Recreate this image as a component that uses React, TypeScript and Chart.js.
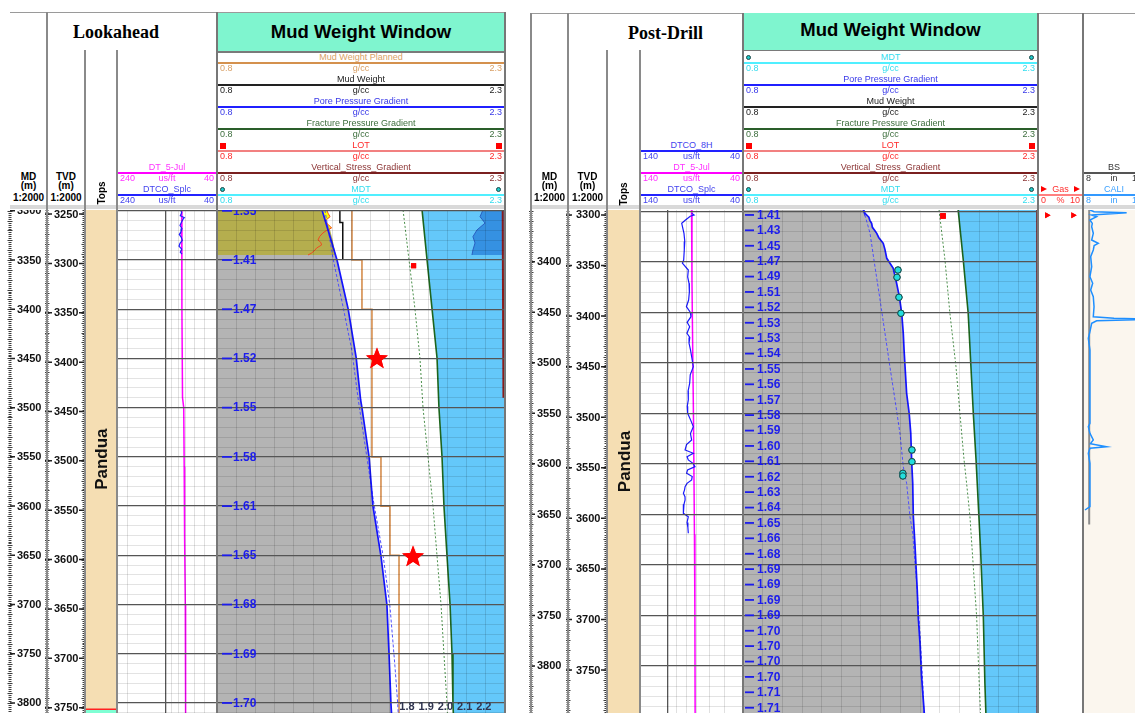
import React, { useEffect, useRef } from 'react';
import { Chart, registerables } from 'chart.js';

Chart.register(...registerables);

const FONT = '"Liberation Sans", Arial, Helvetica, sans-serif';
const SERIF = '"Liberation Serif", "Times New Roman", Times, serif';

/* ===================== DATA : Lookahead ===================== */
const lookMdRange = [3299.2, 3810.2];
const lookTvdRange = [3245.9, 3755.4];
const lookMdTicks = [3300, 3350, 3400, 3450, 3500, 3550, 3600, 3650, 3700, 3750, 3800];
const lookTvdTicks = [3250, 3300, 3350, 3400, 3450, 3500, 3550, 3600, 3650, 3700, 3750];
const lookPpLabelDepths = [3300, 3350, 3400, 3450, 3500, 3550, 3600, 3650, 3700, 3750, 3800];
const lookPpLabels = ['1.35', '1.41', '1.47', '1.52', '1.55', '1.58', '1.61', '1.65', '1.68', '1.69', '1.70'];
const lookScaleLabels = [1.8, 1.9, 2.0, 2.1, 2.2];

const lookTopNames = ['Pandua', ''];
const lookTopTops = [3200, 3805.4];
const lookTopBases = [3805.4, 3900];

const lookDtDepth = [3299, 3400, 3490, 3500, 3560, 3630, 3700, 3811];
const lookDtVal = [75.3, 75.0, 74.2, 72.6, 72.0, 71.5, 70.6, 70.2];
const lookDtcoDepth = [3299, 3302, 3305, 3307, 3308, 3312, 3315, 3318, 3321, 3324, 3327, 3330, 3333, 3336, 3339, 3342, 3344];
const lookDtcoVal = [76.6, 75.3, 77.2, 71.8, 73.1, 75.8, 77.6, 74.9, 76.2, 78.6, 75.8, 74.5, 77.6, 79.0, 75.3, 77.2, 74.9];

const lookPoreDepth = [3299.2, 3350, 3399.7, 3449.5, 3492.2, 3500.3, 3550.1, 3599.9, 3650.7, 3700.5, 3750.3, 3801, 3811];
const lookPoreVal = [1.347, 1.425, 1.483, 1.525, 1.548, 1.555, 1.592, 1.612, 1.654, 1.685, 1.696, 1.706, 1.709];
const lookPoreDashDepth = [3299.2, 3350, 3399, 3441.5, 3492.3, 3593.9, 3651.4, 3702.2, 3763.1, 3800.3, 3811];
const lookPoreDashVal = [1.362, 1.406, 1.458, 1.502, 1.536, 1.614, 1.666, 1.701, 1.727, 1.741, 1.744];
const lookFracDepth = [3299.2, 3350, 3399.7, 3449.5, 3500.3, 3550.1, 3599.9, 3650.7, 3700.5, 3750.3, 3801, 3811];
const lookFracVal = [1.868, 1.894, 1.92, 1.946, 1.956, 1.972, 1.982, 1.998, 2.014, 2.024, 2.029, 2.031];
const lookFracDotDepth = [3299.2, 3350, 3399.7, 3449.5, 3500.3, 3550.1, 3599.9, 3650.7, 3700.5, 3750.3, 3801, 3811];
const lookFracDotVal = [1.769, 1.8, 1.831, 1.857, 1.873, 1.899, 1.925, 1.946, 1.967, 1.982, 1.998, 2.0];
const lookMwpDepth = [3299.2, 3350, 3400, 3550, 3600, 3650, 3811];
const lookMwpVal = [1.503, 1.555, 1.607, 1.654, 1.701, 1.748, 1.748];
const lookMwDepth = [3299.2, 3312, 3350];
const lookMwVal = [1.44, 1.455, 1.455];
const lookEcdDepth = [3299.2, 3303, 3306, 3309, 3311, 3314, 3317.5, 3320, 3322.5, 3326, 3329.7, 3332, 3334.7, 3337.8, 3340, 3342.9, 3344.9];
const lookEcdVal = [1.371, 1.38, 1.389, 1.37, 1.362, 1.38, 1.397, 1.37, 1.352, 1.335, 1.326, 1.34, 1.345, 1.319, 1.31, 1.293, 1.274];
const lookOliveDepth = [3299.2, 3310, 3320, 3332, 3344.9];
const lookOliveVal = [1.347, 1.37, 1.39, 1.405, 1.418];
const lookDeepDepth = [3299.2, 3306, 3312.5, 3319.5, 3326.3, 3332.7, 3339.8, 3344.9];
const lookDeepVal = [2.185, 2.17, 2.196, 2.154, 2.133, 2.144, 2.133, 2.128];
const lookVsDepth = [3299.2, 3400, 3490];
const lookVsVal = [2.288, 2.29, 2.292];
const lookLotDepth = [3355.8];
const lookLotVal = [1.824];
const lookStarDepth = [3449.5, 3650.7];
const lookStarVal = [1.633, 1.821];

/* ===================== DATA : Post-Drill ===================== */
const postMdRange = [3348.8, 3846.6];
const postTvdRange = [3295.1, 3792.5];
const postMdTicks = [3400, 3450, 3500, 3550, 3600, 3650, 3700, 3750, 3800];
const postTvdTicks = [3300, 3350, 3400, 3450, 3500, 3550, 3600, 3650, 3700, 3750];
const postPpLabelDepths = [3353.7, 3368.9, 3384.2, 3399.4, 3414.7, 3429.9, 3445.1, 3460.4, 3475.6, 3490.9, 3506.1, 3521.3, 3536.6, 3551.8, 3567.1, 3582.3, 3597.5, 3612.8, 3628.0, 3643.3, 3658.5, 3673.7, 3689.0, 3704.2, 3719.5, 3734.7, 3749.9, 3765.2, 3780.4, 3795.7, 3810.9, 3826.1, 3841.4];
const postPpLabels = ['1.41', '1.43', '1.45', '1.47', '1.49', '1.51', '1.52', '1.53', '1.53', '1.54', '1.55', '1.56', '1.57', '1.58', '1.59', '1.60', '1.61', '1.62', '1.63', '1.64', '1.65', '1.66', '1.68', '1.69', '1.69', '1.69', '1.69', '1.70', '1.70', '1.70', '1.70', '1.71', '1.71'];

const postTopNames = ['Pandua'];
const postTopTops = [3200];
const postTopBases = [3900];

const postDtDepth = [3348.8, 3420, 3500, 3560, 3670, 3750, 3847];
const postDtVal = [74.8, 74.4, 73.6, 73.0, 72.2, 71.8, 71.6];
const postDtco8Depth = [3352, 3353.7, 3355, 3358.7, 3362, 3371.9, 3380, 3388.4, 3398.3, 3401.5, 3408.2, 3415, 3421.3, 3430, 3437.9, 3444.5, 3450, 3454.4, 3460, 3464.3, 3470.8, 3475, 3480.7, 3487, 3494, 3503.9, 3512, 3520.3, 3528, 3536.8, 3543, 3550, 3557, 3563.2, 3570, 3576.4, 3581, 3586.3, 3589.6, 3593, 3596.2, 3599.5, 3602.8, 3606, 3609.4, 3612.5, 3616, 3619.3, 3622.6, 3626, 3629.2, 3632.5, 3635.8, 3640, 3645, 3649, 3652.3, 3658, 3663, 3668.7];
const postDtco8Val = [74.7, 72.5, 76.0, 80.5, 84.3, 82.0, 81.2, 81.7, 82.3, 83.6, 77.8, 78.4, 77.1, 76.8, 77.5, 79.6, 76.0, 75.3, 78.9, 76.5, 79.1, 76.4, 77.1, 75.8, 74.7, 73.2, 76.0, 76.5, 78.0, 77.8, 78.8, 78.4, 75.5, 73.2, 75.8, 74.7, 79.5, 80.9, 73.2, 79.0, 77.8, 73.5, 71.7, 78.5, 79.4, 74.2, 74.7, 79.0, 80.9, 81.5, 82.6, 81.0, 80.9, 82.0, 82.6, 82.6, 77.8, 79.0, 78.2, 77.8];

const postPoreDepth = [3348.8, 3350.5, 3353, 3356, 3359, 3362, 3366, 3369, 3371.9, 3376, 3381.8, 3388, 3396.6, 3406.5, 3421.3, 3434.6, 3451, 3470.8, 3487.3, 3503.9, 3530.2, 3550, 3569.8, 3599.5, 3619.3, 3652.3, 3678.6, 3701.8, 3724.8, 3751.3, 3777.6, 3810.6, 3847];
const postPoreVal = [1.412, 1.415, 1.425, 1.44, 1.445, 1.454, 1.458, 1.47, 1.48, 1.49, 1.513, 1.522, 1.531, 1.564, 1.581, 1.595, 1.607, 1.615, 1.619, 1.624, 1.632, 1.645, 1.653, 1.658, 1.663, 1.666, 1.674, 1.68, 1.686, 1.691, 1.7, 1.708, 1.722];
const postPoreDashDepth = [3348.8, 3371.9, 3404.9, 3437.9, 3470.8, 3503.9, 3536.8, 3569.8, 3602.8, 3619.3, 3652.3, 3668.7, 3685.3, 3718.2, 3767.7, 3817.2, 3847];
const postPoreDashVal = [1.413, 1.446, 1.471, 1.497, 1.522, 1.547, 1.573, 1.598, 1.615, 1.632, 1.649, 1.663, 1.669, 1.683, 1.7, 1.714, 1.72];
const postFracDepth = [3348.8, 3398.3, 3451, 3503.9, 3550, 3596.2, 3619.3, 3685.3, 3751.3, 3817.2, 3847];
const postFracVal = [1.894, 1.92, 1.945, 1.959, 1.971, 1.985, 1.991, 2.008, 2.022, 2.03, 2.035];
const postFracDotDepth = [3348.8, 3398.3, 3451, 3503.9, 3550, 3596.2, 3619.3, 3652.3, 3701.8, 3751.3, 3817.2, 3847];
const postFracDotVal = [1.797, 1.827, 1.852, 1.883, 1.903, 1.924, 1.937, 1.954, 1.971, 1.988, 2.001, 2.008];
const postVsDepth = [3348.8, 3847];
const postVsVal = [2.296, 2.297];
const postLotDepth = [3354.7];
const postLotVal = [1.817];
const postMdtDepth = [3408.2, 3415.4, 3435.2, 3451, 3586.3, 3597.9, 3609.4, 3612];
const postMdtVal = [1.588, 1.583, 1.593, 1.603, 1.659, 1.659, 1.613, 1.613];

const postGasDepth = [3354, 3354];
const postGasVal = [2.0, 7.8];
const postBsDepth = [3348.8, 3660];
const postBsVal = [8.5, 8.5];
const postCaliDepth = [3348.8, 3350.5, 3351.5, 3353.7, 3355.4, 3358.7, 3362, 3365.3, 3371.9, 3378.5, 3381.8, 3384, 3388.4, 3395, 3404.9, 3414.8, 3421.3, 3428, 3434.6, 3444.5, 3454.4, 3456, 3457, 3458.4, 3461, 3469.2, 3475.8, 3487.3, 3520.3, 3560, 3563.2, 3569.8, 3576.4, 3580, 3583, 3584.6, 3589.6, 3599.5, 3619.3, 3642.4, 3645.7];
const postCaliVal = [8.56, 8.9, 11.52, 8.7, 9.1, 8.56, 8.75, 8.7, 8.83, 8.7, 9.23, 8.9, 8.83, 8.62, 8.7, 8.56, 8.78, 8.62, 8.83, 8.89, 8.83, 10.5, 14.0, 9.1, 8.7, 8.56, 8.43, 8.56, 8.56, 8.56, 8.43, 8.56, 8.83, 8.6, 9.91, 8.56, 8.43, 8.56, 8.56, 8.56, 8.16];

const dtGridValues = [50, 60, 70, 80, 90, 100, 200];

/* ===================== colours ===================== */
const C_GRAY = '#b4b4b4';
const C_BLUE = '#64c8fa';
const C_DEEP = '#3591e2';
const C_OLIVE = '#b5ae4e';
const C_YELLOW = '#ffff00';
const C_LABEL = '#1c1ced';

/* ===================== chart helpers ===================== */
const pts = (d: number[], v: number[]) => {
  const n = Math.min(d.length, v.length);
  const out: { x: number; y: number }[] = [];
  for (let i = 0; i < n; i++) out.push({ x: v[i], y: d[i] });
  return out;
};

const lineDs = (d: number[], v: number[], color: string, width: number, extra: any = {}) => ({
  type: 'line', data: pts(d, v), borderColor: color, borderWidth: width, pointRadius: 0,
  pointHoverRadius: 0, fill: false, tension: 0, ...extra,
});
const fillDs = (d: number[], v: number[], color: string, target: number) => ({
  type: 'line', data: pts(d, v), borderColor: 'rgba(0,0,0,0)', borderWidth: 0, backgroundColor: color,
  pointRadius: 0, pointHoverRadius: 0, fill: { value: target }, tension: 0,
});
const markDs = (d: number[], v: number[], style: any, radius: number, bg: string, border: string, bw = 1, rotation = 0) => ({
  type: 'line', data: pts(d, v), showLine: false, pointStyle: style, pointRadius: radius,
  pointHoverRadius: radius, pointBackgroundColor: bg, pointBorderColor: border, pointBorderWidth: bw,
  pointRotation: rotation, fill: false, onTop: true,
});

const baseOptions = (scales: any, indexAxis: 'x' | 'y') => ({
  responsive: false, maintainAspectRatio: false, animation: false, indexAxis, events: [],
  layout: { padding: 0, autoPadding: false },
  plugins: { legend: { display: false }, tooltip: { enabled: false }, title: { display: false } },
  scales,
});

const isMajor = (c: any) => c.tick && Math.abs(Math.round(c.tick.value) % 50) < 0.01;

const depthAxis = (range: number[], grid: boolean) => {
  if (!grid) return { type: 'linear', display: false, min: range[0], max: range[1], reverse: true };
  return {
    type: 'linear', display: true, min: range[0], max: range[1], reverse: true, z: 1,
    ticks: { display: false }, border: { display: false },
    afterBuildTicks: (s: any) => {
      const t: any[] = [];
      for (let v = Math.ceil(s.min / 10) * 10; v <= s.max; v += 10) t.push({ value: v });
      s.ticks = t;
    },
    grid: {
      z: 1, drawTicks: false,
      color: (c: any) => (isMajor(c) ? '#555555' : 'rgba(0,0,0,0.11)'),
      lineWidth: (c: any) => (isMajor(c) ? 1.3 : 1),
    },
  };
};

const mwwAxis = () => ({
  type: 'linear', display: true, min: 0.8, max: 2.3, z: 1,
  ticks: { display: false }, border: { display: false },
  afterBuildTicks: (s: any) => {
    const t: any[] = [];
    for (let k = 9; k <= 22; k++) t.push({ value: k / 10 });
    s.ticks = t;
  },
  grid: { z: 1, drawTicks: false, color: 'rgba(0,0,0,0.12)', lineWidth: 1 },
});

const dtAxis = (max: number) => ({
  type: 'logarithmic', display: true, min: 40, max, reverse: true, z: 1,
  ticks: { display: false }, border: { display: false },
  afterBuildTicks: (s: any) => {
    s.ticks = dtGridValues.filter((v) => v > 40 && v < max).map((v) => ({ value: v }));
  },
  grid: {
    z: 1, drawTicks: false,
    color: (c: any) => (c.tick && c.tick.value === 100 ? '#555555' : 'rgba(0,0,0,0.12)'),
    lineWidth: (c: any) => (c.tick && c.tick.value === 100 ? 1.3 : 1),
  },
});

/* ===================== plugins ===================== */
type Ruler = { x: number; minor: 'both' | 'left'; majorL: number; majorR: number };

const rulerPlugin = (ticks: number[], rulers: Ruler[], labelX: number) => ({
  id: 'ruler',
  afterDraw(chart: any) {
    const { ctx } = chart;
    const ys = chart.scales.y;
    ctx.save();
    ctx.strokeStyle = '#3c3c3c';
    ctx.lineWidth = 1;
    ctx.beginPath();
    const first = Math.ceil(ys.min / 2) * 2;
    for (const r of rulers) {
      for (let v = first; v <= ys.max; v += 2) {
        const py = Math.round(ys.getPixelForValue(v)) + 0.5;
        const len = v % 10 === 0 ? 2.5 : 1.5;
        const a = r.x - len;
        const b = r.minor === 'left' ? r.x : r.x + len;
        ctx.moveTo(a, py);
        ctx.lineTo(b, py);
      }
    }
    ctx.stroke();
    ctx.lineWidth = 1.5;
    ctx.strokeStyle = '#222';
    ctx.beginPath();
    for (const t of ticks) {
      const py = ys.getPixelForValue(t);
      for (const r of rulers) {
        ctx.moveTo(r.x - r.majorL, py);
        ctx.lineTo(r.x + r.majorR, py);
      }
    }
    ctx.stroke();
    ctx.fillStyle = '#111';
    ctx.font = `bold 11px ${FONT}`;
    ctx.textBaseline = 'middle';
    ctx.textAlign = 'left';
    for (const t of ticks) ctx.fillText(String(t), labelX, ys.getPixelForValue(t) + 0.5);
    ctx.restore();
  },
});

const sideLabelPlugin = (depths: number[], labels: string[], dash: number[], textX: number) => ({
  id: 'sideLabels',
  afterDraw(chart: any) {
    const { ctx, chartArea: a } = chart;
    const ys = chart.scales.y;
    ctx.save();
    ctx.strokeStyle = C_LABEL;
    ctx.fillStyle = C_LABEL;
    ctx.lineWidth = 1.8;
    ctx.font = `bold 12px ${FONT}`;
    ctx.textBaseline = 'middle';
    ctx.textAlign = 'left';
    const n = Math.min(depths.length, labels.length);
    for (let i = 0; i < n; i++) {
      const py = ys.getPixelForValue(depths[i]);
      ctx.beginPath();
      ctx.moveTo(a.left + dash[0], py);
      ctx.lineTo(a.left + dash[1], py);
      ctx.stroke();
      ctx.fillText(labels[i], a.left + textX, py + 0.5);
    }
    ctx.restore();
  },
});

const scaleLabelPlugin = (values: number[]) => ({
  id: 'scaleLabels',
  afterDraw(chart: any) {
    const { ctx, chartArea: a } = chart;
    const xs = chart.scales.x;
    ctx.save();
    ctx.font = `bold 11px ${FONT}`;
    ctx.fillStyle = '#30354f';
    ctx.textAlign = 'center';
    ctx.textBaseline = 'middle';
    values.forEach((v) => ctx.fillText(v.toFixed(1), xs.getPixelForValue(v) - 2, a.bottom - 6.5));
    ctx.restore();
  },
});

const markersOnTop = {
  id: 'markersOnTop',
  afterDraw(chart: any) {
    chart.data.datasets.forEach((ds: any, i: number) => {
      if (!ds.onTop) return;
      const meta = chart.getDatasetMeta(i);
      meta.data.forEach((el: any) => el.draw(chart.ctx, chart.chartArea));
    });
  },
};

const topsNamePlugin = (names: string[], tops: number[], bases: number[]) => ({
  id: 'topsNames',
  afterDatasetsDraw(chart: any) {
    const { ctx, chartArea: a } = chart;
    const ys = chart.scales.y;
    ctx.save();
    ctx.font = `bold 17px ${FONT}`;
    ctx.fillStyle = '#111';
    ctx.textAlign = 'center';
    ctx.textBaseline = 'middle';
    names.forEach((n, i) => {
      if (!n) return;
      const t = Math.max(tops[i], ys.min);
      const b = Math.min(bases[i], ys.max);
      if (b <= t) return;
      const py = ys.getPixelForValue((t + b) / 2);
      ctx.save();
      ctx.translate((a.left + a.right) / 2 + 1.5, py);
      ctx.rotate(-Math.PI / 2);
      ctx.fillText(n, 0, 0);
      ctx.restore();
    });
    ctx.restore();
  },
});

function makeStar(size = 24, color = '#ff0000') {
  const c = document.createElement('canvas');
  c.width = size;
  c.height = size;
  const g = c.getContext('2d') as CanvasRenderingContext2D;
  const R = size / 2 - 0.5;
  const r = R * 0.42;
  const cx = size / 2;
  const cy = size / 2 + 1;
  g.beginPath();
  for (let i = 0; i < 10; i++) {
    const ang = -Math.PI / 2 + (i * Math.PI) / 5;
    const rr = i % 2 === 0 ? R : r;
    g.lineTo(cx + rr * Math.cos(ang), cy + rr * Math.sin(ang));
  }
  g.closePath();
  g.fillStyle = color;
  g.fill();
  return c;
}

/* ===================== chart builders ===================== */
const buildRuler = (range: number[], ticks: number[], rulers: Ruler[], labelX: number) => () => ({
  type: 'scatter',
  data: { datasets: [] },
  options: baseOptions({ x: { type: 'linear', display: false, min: 0, max: 1 }, y: depthAxis(range, false) }, 'x'),
  plugins: [rulerPlugin(ticks, rulers, labelX)],
});

const buildTops = (range: number[], names: string[], tops: number[], bases: number[], colors: string[]) => () => ({
  type: 'bar',
  data: {
    labels: ['tops'],
    datasets: names.map((n, i) => ({
      label: n,
      data: [[tops[i], bases[i]]],
      backgroundColor: colors[i],
      borderColor: '#ff2020',
      borderWidth: i === 0 ? 0 : { top: 2, right: 0, bottom: 0, left: 0 },
      borderSkipped: false,
      grouped: false,
      barPercentage: 1,
      categoryPercentage: 1,
    })),
  },
  options: baseOptions({ x: { display: false }, y: depthAxis(range, false) }, 'x'),
  plugins: [topsNamePlugin(names, tops, bases)],
});

const buildLookDt = () => ({
  type: 'line',
  data: {
    datasets: [
      lineDs(lookDtcoDepth, lookDtcoVal, '#2020ff', 1.2),
      lineDs(lookDtDepth, lookDtVal, '#ff00ff', 1.5),
    ],
  },
  options: baseOptions({ x: dtAxis(240), y: depthAxis(lookMdRange, true) }, 'y'),
});

const buildPostDt = () => ({
  type: 'line',
  data: {
    datasets: [
      lineDs(postDtco8Depth, postDtco8Val, '#1a1aff', 1.2),
      lineDs(postDtDepth, postDtVal, '#ff00ff', 1.5),
    ],
  },
  options: baseOptions({ x: dtAxis(140), y: depthAxis(postMdRange, true) }, 'y'),
});

const buildLookMww = () => {
  const star = makeStar();
  const datasets = [
    markDs(lookStarDepth, lookStarVal, star, 11, '#ff0000', '#ff0000', 0),
    markDs(lookLotDepth, lookLotVal, 'rect', 3.6, '#ff0000', '#ff0000', 0),
    lineDs(lookVsDepth, lookVsVal, '#8a1c1c', 2),
    lineDs(lookPoreDepth, lookPoreVal, '#1414ff', 1.7),
    lineDs(lookFracDepth, lookFracVal, '#1d651d', 1.6),
    lineDs(lookPoreDashDepth, lookPoreDashVal, '#4f4fff', 1, { borderDash: [3, 2] }),
    lineDs(lookFracDotDepth, lookFracDotVal, '#4a8f4a', 1, { borderDash: [2, 2] }),
    lineDs(lookMwpDepth, lookMwpVal, '#d58d4d', 1.6, { stepped: 'after' }),
    lineDs(lookMwDepth, lookMwVal, '#111111', 1.5, { stepped: 'after' }),
    lineDs(lookEcdDepth, lookEcdVal, '#ef4b22', 1),
    lineDs(lookDeepDepth, lookDeepVal, '#2a5fc2', 1),
    fillDs(lookOliveDepth, lookOliveVal, C_OLIVE, 0.8),
    fillDs(lookEcdDepth, lookEcdVal, C_YELLOW, 0.8),
    fillDs(lookDeepDepth, lookDeepVal, C_DEEP, 2.4),
    fillDs(lookFracDepth, lookFracVal, C_BLUE, 2.4),
    fillDs(lookPoreDepth, lookPoreVal, C_GRAY, 0.8),
  ];
  return {
    type: 'line',
    data: { datasets },
    options: baseOptions({ x: mwwAxis(), y: depthAxis(lookMdRange, true) }, 'y'),
    plugins: [sideLabelPlugin(lookPpLabelDepths, lookPpLabels, [5, 15], 16), scaleLabelPlugin(lookScaleLabels), markersOnTop],
  };
};

const buildPostMww = () => {
  const datasets = [
    markDs(postMdtDepth, postMdtVal, 'circle', 3.2, '#22dede', '#1a4a4a', 1),
    markDs(postLotDepth, postLotVal, 'rect', 4, '#ff0000', '#ff0000', 0),
    lineDs(postVsDepth, postVsVal, '#7a1a1a', 2),
    lineDs(postPoreDepth, postPoreVal, '#1414ff', 1.7),
    lineDs(postFracDepth, postFracVal, '#1d651d', 1.6),
    lineDs(postPoreDashDepth, postPoreDashVal, '#4f4fff', 1, { borderDash: [3, 2] }),
    lineDs(postFracDotDepth, postFracDotVal, '#4a8f4a', 1, { borderDash: [2, 2] }),
    fillDs(postFracDepth, postFracVal, C_BLUE, 2.4),
    fillDs(postPoreDepth, postPoreVal, C_GRAY, 0.8),
  ];
  return {
    type: 'line',
    data: { datasets },
    options: baseOptions({ x: mwwAxis(), y: depthAxis(postMdRange, true) }, 'y'),
    plugins: [sideLabelPlugin(postPpLabelDepths, postPpLabels, [2, 11], 14), markersOnTop],
  };
};

const buildPostGas = () => ({
  type: 'line',
  data: { datasets: [markDs(postGasDepth, postGasVal, 'triangle', 3.6, '#ff0000', '#ff0000', 0, 90)] },
  options: baseOptions({ x: { type: 'linear', display: false, min: 0, max: 10 }, y: depthAxis(postMdRange, false) }, 'y'),
  plugins: [markersOnTop],
});

const buildPostCali = () => ({
  type: 'line',
  data: {
    datasets: [
      lineDs(postCaliDepth, postCaliVal, '#1e8fff', 1.5),
      lineDs(postBsDepth, postBsVal, '#8c8c8c', 2),
    ],
  },
  options: baseOptions({ x: { type: 'linear', display: false, min: 8, max: 13 }, y: depthAxis(postMdRange, false) }, 'y'),
});

const buildLookMd = buildRuler(lookMdRange, lookMdTicks, [{ x: 10, minor: 'both', majorL: 0, majorR: 5 }], 17);
const buildLookTvd = buildRuler(lookTvdRange, lookTvdTicks, [
  { x: 2, minor: 'both', majorL: 2, majorR: 5 },
  { x: 39, minor: 'left', majorL: 5, majorR: 0 },
], 9);
const buildPostMd = buildRuler(postMdRange, postMdTicks, [{ x: 2, minor: 'both', majorL: 0, majorR: 4 }], 8);
const buildPostTvd = buildRuler(postTvdRange, postTvdTicks, [
  { x: 2, minor: 'both', majorL: 4, majorR: 4 },
  { x: 40, minor: 'left', majorL: 5, majorR: 0 },
], 10);
const buildLookTops = buildTops(lookMdRange, lookTopNames, lookTopTops, lookTopBases, ['#f5deb3', '#7fffd4']);
const buildPostTops = buildTops(postMdRange, postTopNames, postTopTops, postTopBases, ['#f5deb3']);

/* ===================== React components ===================== */
function ChartCanvas({ x, y, w, h, build, bg }: { x: number; y: number; w: number; h: number; build: () => any; bg?: string }) {
  const ref = useRef<HTMLCanvasElement | null>(null);
  useEffect(() => {
    if (!ref.current) return;
    const chart = new Chart(ref.current, build());
    return () => chart.destroy();
  }, []);
  return (
    <canvas
      ref={ref}
      width={w}
      height={h}
      style={{ position: 'absolute', left: x, top: y, width: w, height: h, background: bg, display: 'block' }}
    />
  );
}

function Txt({ left, width, cy, align, color = '#000', size = 9, bold = false, family = FONT, children }: any) {
  const lh = Math.round(size * 1.25);
  return (
    <div
      style={{
        position: 'absolute', left, top: cy - lh / 2, width, height: lh, lineHeight: `${lh}px`,
        fontSize: size, fontFamily: family, fontWeight: bold ? 700 : 400, color, textAlign: align,
        whiteSpace: 'nowrap',
      }}
    >
      {children}
    </div>
  );
}
const CText = ({ cx, cy, ...rest }: any) => <Txt left={cx - 150} width={300} cy={cy} align="center" {...rest} />;

const Box = ({ l, t, w, h, bg, style }: any) => (
  <div style={{ position: 'absolute', left: l, top: t, width: w, height: h, background: bg, ...style }} />
);

function Marker({ kind, l, cy }: { kind: string; l: number; cy: number }) {
  if (kind === 'square') return <Box l={l} t={cy - 3} w={6} h={6} bg="#ff0000" />;
  if (kind === 'circle')
    return (
      <div style={{ position: 'absolute', left: l, top: cy - 2.5, width: 5, height: 5, borderRadius: '50%', background: '#1ec8c8', border: '1px solid #1a4545', boxSizing: 'border-box' }} />
    );
  return (
    <div style={{ position: 'absolute', left: l, top: cy - 3.5, width: 0, height: 0, borderTop: '3.5px solid transparent', borderBottom: '3.5px solid transparent', borderLeft: '6px solid #ff0000' }} />
  );
}

function Legend({ x, w, row, title, color, lineColor, lo, unit, hi, marker, lineH = 2 }: any) {
  const ty = 57.5 + 22 * row;
  const ly = ty + 5.3;
  const sy = ty + 11.4;
  return (
    <>
      <CText cx={x + w / 2} cy={ty} color={color} size={9}>{title}</CText>
      <Box l={x} t={ly - lineH / 2} w={w} h={lineH} bg={lineColor} />
      <Txt left={x + 3} width={40} cy={sy} align="left" color={color} size={9}>{lo}</Txt>
      <CText cx={x + w / 2} cy={sy} color={color} size={9}>{unit}</CText>
      <Txt left={x + w - 43} width={40} cy={sy} align="right" color={color} size={9}>{hi}</Txt>
      {marker && <Marker kind={marker} l={x + 3} cy={ty} />}
      {marker && <Marker kind={marker} l={x + w - 9} cy={ty} />}
    </>
  );
}

function Rotated({ cx, cy, children }: any) {
  return (
    <div
      style={{
        position: 'absolute', left: cx - 30, top: cy - 6, width: 60, height: 12, lineHeight: '12px',
        textAlign: 'center', transform: 'rotate(-90deg)', fontWeight: 700, fontSize: 10, fontFamily: FONT, color: '#000',
      }}
    >
      {children}
    </div>
  );
}

const MWW_ROWS_LEFT = [
  { title: 'Mud Weight Planned', color: '#d9a066', lineColor: '#d4914e' },
  { title: 'Mud Weight', color: '#222222', lineColor: '#222222' },
  { title: 'Pore Pressure Gradient', color: '#3838e8', lineColor: '#2020ff' },
  { title: 'Fracture Pressure Gradient', color: '#3d6e3d', lineColor: '#2a5e2a' },
  { title: 'LOT', color: '#ff2a2a', lineColor: '#f28080', marker: 'square' },
  { title: 'Vertical_Stress_Gradient', color: '#8c3535', lineColor: '#7a2020' },
  { title: 'MDT', color: '#33dcee', lineColor: '#50efff', marker: 'circle' },
];
const MWW_ROWS_RIGHT = [
  { title: 'MDT', color: '#33dcee', lineColor: '#50efff', marker: 'circle' },
  { title: 'Pore Pressure Gradient', color: '#3838e8', lineColor: '#2020ff' },
  { title: 'Mud Weight', color: '#222222', lineColor: '#222222' },
  { title: 'Fracture Pressure Gradient', color: '#3d6e3d', lineColor: '#2a5e2a' },
  { title: 'LOT', color: '#ff2a2a', lineColor: '#f28080', marker: 'square' },
  { title: 'Vertical_Stress_Gradient', color: '#8c3535', lineColor: '#7a2020' },
  { title: 'MDT', color: '#33dcee', lineColor: '#50efff', marker: 'circle' },
];

export default function App() {
  const vline = (x: number, t: number, c = '#8a8a8a') => <Box key={`v${x}-${t}`} l={x - 0.75} t={t} w={1.5} h={713 - t} bg={c} />;
  return (
    <div style={{ position: 'fixed', left: 0, top: 0, width: 1135, height: 713, overflow: 'hidden', background: '#ffffff', fontFamily: FONT }}>
      {/* ---------- Lookahead tracks ---------- */}
      <ChartCanvas x={0} y={210} w={45} h={503} build={buildLookMd} />
      <ChartCanvas x={45} y={210} w={40} h={503} build={buildLookTvd} />
      <ChartCanvas x={85} y={210} w={32} h={503} build={buildLookTops} />
      <ChartCanvas x={117} y={210} w={100} h={503} build={buildLookDt} />
      <ChartCanvas x={217} y={210} w={288} h={503} build={buildLookMww} />

      {/* ---------- Post-Drill tracks ---------- */}
      <ChartCanvas x={529} y={210} w={39} h={503} build={buildPostMd} />
      <ChartCanvas x={566} y={210} w={41} h={503} build={buildPostTvd} />
      <ChartCanvas x={607} y={210} w={33} h={503} build={buildPostTops} />
      <ChartCanvas x={640} y={210} w={103} h={503} build={buildPostDt} />
      <ChartCanvas x={743} y={210} w={295} h={503} build={buildPostMww} />
      <ChartCanvas x={1038} y={210} w={45} h={503} build={buildPostGas} />
      <ChartCanvas x={1083} y={210} w={62} h={503} build={buildPostCali} bg="#fbf6ee" />

      {/* ---------- Lookahead header ---------- */}
      <Box l={10} t={12} w={496} h={1} bg="#9a9a9a" />
      <Box l={10} t={205} w={496} h={4} bg="#d9d9d9" />
      <Box l={217} t={12.5} w={288} h={39} bg="#7ff5cf" />
      <Box l={217} t={51} w={288} h={1.5} bg="#7a7a7a" />
      <CText cx={361} cy={31} size={18.5} bold color="#000">Mud Weight Window</CText>
      <CText cx={116} cy={32} size={18} bold family={SERIF} color="#000">Lookahead</CText>
      <CText cx={28.5} cy={176} size={10} bold>MD</CText>
      <CText cx={28.5} cy={185} size={10} bold>(m)</CText>
      <CText cx={28.5} cy={197.5} size={10} bold>1:2000</CText>
      <CText cx={66} cy={176} size={10} bold>TVD</CText>
      <CText cx={66} cy={185} size={10} bold>(m)</CText>
      <CText cx={66} cy={197.5} size={10} bold>1:2000</CText>
      <Rotated cx={101.5} cy={193}>Tops</Rotated>
      <Legend x={117} w={100} row={5} title="DT_5-Jul" color="#ff33ff" lineColor="#ff00ff" lo="240" unit="us/ft" hi="40" />
      <Legend x={117} w={100} row={6} title="DTCO_Splc" color="#4444ee" lineColor="#2222ff" lo="240" unit="us/ft" hi="40" />
      {MWW_ROWS_LEFT.map((r, i) => (
        <Legend key={`l${i}`} x={217} w={288} row={i} title={r.title} color={r.color} lineColor={r.lineColor} lo="0.8" unit="g/cc" hi="2.3" marker={r.marker} />
      ))}

      {/* ---------- Post-Drill header ---------- */}
      <Box l={531} t={13} w={604} h={1} bg="#9a9a9a" />
      <Box l={531} t={205} w={604} h={4} bg="#d9d9d9" />
      <Box l={743} t={13} w={295} h={37} bg="#7ff5cf" />
      <Box l={743} t={49.5} w={295} h={1.5} bg="#7a7a7a" />
      <CText cx={890.5} cy={29.5} size={18.5} bold color="#000">Mud Weight Window</CText>
      <CText cx={665.5} cy={33} size={18} bold family={SERIF} color="#000">Post-Drill</CText>
      <CText cx={549.5} cy={176} size={10} bold>MD</CText>
      <CText cx={549.5} cy={185} size={10} bold>(m)</CText>
      <CText cx={549.5} cy={197.5} size={10} bold>1:2000</CText>
      <CText cx={587.5} cy={176} size={10} bold>TVD</CText>
      <CText cx={587.5} cy={185} size={10} bold>(m)</CText>
      <CText cx={587.5} cy={197.5} size={10} bold>1:2000</CText>
      <Rotated cx={624} cy={194}>Tops</Rotated>
      <Legend x={640} w={103} row={4} title="DTCO_8H" color="#4444ee" lineColor="#2222ff" lo="140" unit="us/ft" hi="40" />
      <Legend x={640} w={103} row={5} title="DT_5-Jul" color="#ff33ff" lineColor="#ff00ff" lo="140" unit="us/ft" hi="40" />
      <Legend x={640} w={103} row={6} title="DTCO_Splc" color="#4444ee" lineColor="#2222ff" lo="140" unit="us/ft" hi="40" />
      {MWW_ROWS_RIGHT.map((r, i) => (
        <Legend key={`r${i}`} x={743} w={295} row={i} title={r.title} color={r.color} lineColor={r.lineColor} lo="0.8" unit="g/cc" hi="2.3" marker={r.marker} />
      ))}
      <Legend x={1038} w={45} row={6} title="Gas" color="#ff3030" lineColor="#ff8080" lo="0" unit="%" hi="10" marker="tri" />
      <Legend x={1083} w={62} row={5} title="BS" color="#333333" lineColor="#555555" lo="8" unit="in" hi="13" lineH={1.5} />
      <Legend x={1083} w={62} row={6} title="CALI" color="#3aa0ff" lineColor="#3399ff" lo="8" unit="in" hi="13" />

      {/* ---------- column separators ---------- */}
      {vline(47, 12)}
      {vline(85, 50)}
      {vline(117, 50)}
      {vline(217, 12, '#777')}
      {vline(505, 12, '#777')}
      {vline(531, 13)}
      {vline(568, 13)}
      {vline(607, 50)}
      {vline(640, 50)}
      {vline(743, 13, '#777')}
      {vline(1038, 13, '#777')}
      {vline(1083, 13, '#777')}
    </div>
  );
}
